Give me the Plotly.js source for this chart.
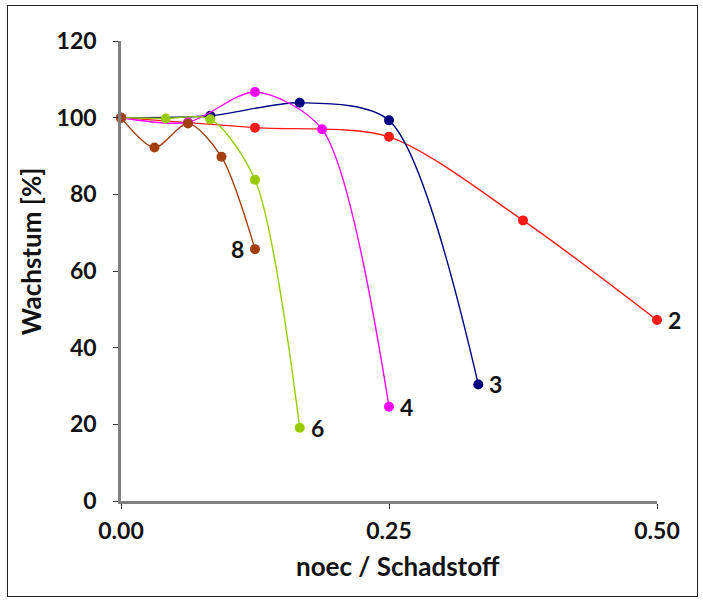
<!DOCTYPE html>
<html>
<head>
<meta charset="utf-8">
<script src="https://cdn.plot.ly/plotly-3.0.1.min.js"></script>
<style>
  html, body { margin: 0; padding: 0; background: #fff; }
  #chart { width: 703px; height: 606px; }
  #frame { position: absolute; left: 7px; top: 5px; width: 689px; height: 590px; border: 1.5px solid #222; pointer-events: none; }
</style>
</head>
<body>
<div id="chart"></div>
<div id="frame"></div>
<script>
// growth [%] against noec / Schadstoff, one series per curve label
var names = ['2', '3', '4', '6', '8'];
var colors = ['#ff1a1a', '#000080', '#ff00ff', '#99cc00', '#a3400f'];

var x2 = [0, 0.125, 0.25, 0.375, 0.5];
var y2 = [100, 97.4, 95.0, 73.2, 47.2];

var x3 = [0, 0.0833, 0.1667, 0.25, 0.3333];
var y3 = [100, 100.5, 103.9, 99.3, 30.4];

var x4 = [0, 0.0625, 0.125, 0.1875, 0.25];
var y4 = [100, 98.8, 106.7, 97.0, 24.6];

var x6 = [0, 0.0417, 0.0833, 0.125, 0.1667];
var y6 = [100, 99.8, 99.6, 83.8, 19.1];

var x8 = [0, 0.03125, 0.0625, 0.09375, 0.125];
var y8 = [100, 92.2, 98.5, 89.8, 65.7];

var xs = [x2, x3, x4, x6, x8];
var ys = [y2, y3, y4, y6, y8];

var tickVals = [0, 0.25, 0.5];
var tickText = ['0.00', '0.25', '0.50'];

var font = 'Lato, "DejaVu Sans", sans-serif';

var data = names.map(function (n, i) {
  return {
    x: xs[i],
    y: ys[i],
    name: n,
    type: 'scatter',
    mode: 'lines+markers',
    line: { color: colors[i], width: 1.4, shape: 'spline', smoothing: 0.8 },
    marker: { color: colors[i], size: 10 },
    cliponaxis: false,
    hoverinfo: 'x+y+name',
  };
});

// series labels next to the last point of each curve
var annotations = names.map(function (n, i) {
  var last = xs[i].length - 1;
  var isEight = n === '8';
  return {
    x: xs[i][last],
    y: ys[i][last],
    text: '<b>' + n + '</b>',
    showarrow: false,
    xanchor: isEight ? 'right' : 'left',
    xshift: isEight ? -9 : 9,
    font: { family: font, size: 23, color: '#111' },
  };
});

annotations.push({
  xref: 'paper', yref: 'paper',
  x: 0.517, y: -0.142,
  xanchor: 'center', yanchor: 'middle',
  text: '<b>noec / Schadstoff</b>',
  showarrow: false,
  font: { family: font, size: 26, color: '#111' },
});
annotations.push({
  xref: 'paper', yref: 'paper',
  x: -0.168, y: 0.543,
  xanchor: 'center', yanchor: 'middle',
  textangle: -90,
  text: '<b>Wachstum [%]</b>',
  showarrow: false,
  font: { family: font, size: 26, color: '#111' },
});

var layout = {
  width: 703,
  height: 606,
  margin: { l: 121, r: 46, t: 41, b: 105 },
  paper_bgcolor: '#fff',
  plot_bgcolor: '#fff',
  showlegend: false,
  font: { family: font, size: 20, color: '#111' },
  xaxis: {
    range: [0, 0.5],
    tickvals: tickVals,
    ticktext: tickText,
    showgrid: false,
    zeroline: false,
    showline: true,
    linecolor: '#808080',
    linewidth: 2.5,
    ticks: 'outside',
    ticklen: 5,
    tickcolor: '#333',
    ticklabelstandoff: 3,
    tickfont: { family: font, size: 23, weight: 'bold', color: '#111' },
  },
  yaxis: {
    range: [0, 120],
    dtick: 20,
    showgrid: false,
    zeroline: false,
    showline: true,
    linecolor: '#808080',
    linewidth: 2.5,
    ticks: 'outside',
    ticklen: 5,
    tickcolor: '#333',
    ticklabelstandoff: 12,
    tickfont: { family: font, size: 23, weight: 'bold', color: '#111' },
  },
  annotations: annotations,
};

Plotly.newPlot('chart', data, layout, { displayModeBar: false });
</script>
</body>
</html>
